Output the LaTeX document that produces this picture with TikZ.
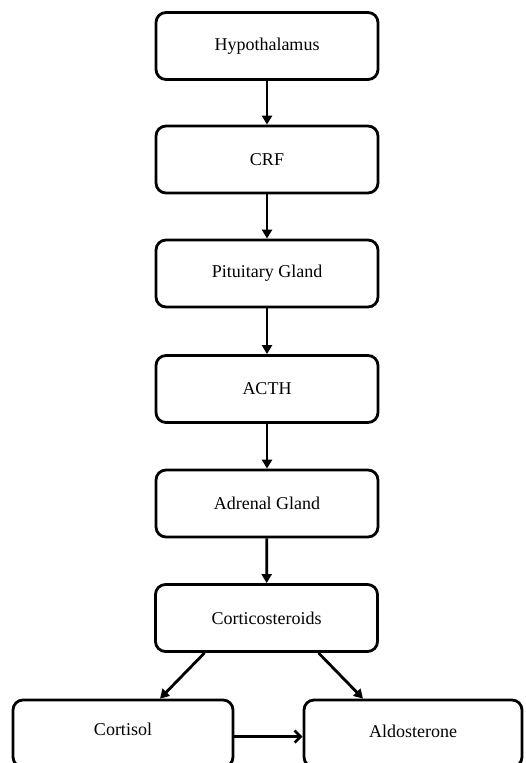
\documentclass[tikz,border=0pt]{standalone}
\usepackage{fontspec}
\setmainfont{Liberation Serif}
\usetikzlibrary{arrows.meta}

\tikzset{
  gland/.style={draw, line width=2.8pt, rounded corners=10pt, minimum width=222pt,
    minimum height=67pt, inner sep=0pt, font=\fontsize{18}{20}\selectfont},
  flow/.style={line width=2.8pt, -{Triangle[length=9pt,width=10pt]}},
  feed/.style={line width=2.8pt, -{Straight Barb[length=6pt,width=12pt]}}
}

\begin{document}
\begin{tikzpicture}[x=1pt,y=-1pt]
\useasboundingbox (0,0) rectangle (525,763);
\node[gland] (hyp) at (267,46) {Hypothalamus};
\node[gland] (crf) at (267,159.5) {CRF};
\node[gland] (pit) at (267,273.5) {Pituitary Gland};
\node[gland] (acth) at (267,389) {ACTH};
\node[gland] (adr) at (267,503.5) {Adrenal Gland};
\node[gland] (cort) at (266.5,618) {Corticosteroids};
\node[gland, minimum width=220pt, text depth=8pt] (cortisol) at (123,733.5) {Cortisol};
\node[gland, minimum width=218pt, text depth=4pt] (aldo) at (413,733.5) {Aldosterone};
\draw[flow] (hyp) -- (crf);
\draw[flow] (crf) -- (pit);
\draw[flow] (pit) -- (acth);
\draw[flow] (acth) -- (adr);
\draw[flow] (adr) -- (cort);
\draw[flow] ([xshift=-62pt]cort.south) -- ([xshift=37pt]cortisol.north);
\draw[flow] ([xshift=52pt]cort.south) -- ([xshift=-50pt]aldo.north);
\draw[feed] ([yshift=-38pt]cortisol.north east) -- ([yshift=-38pt]aldo.north west);
\end{tikzpicture}
\end{document}
